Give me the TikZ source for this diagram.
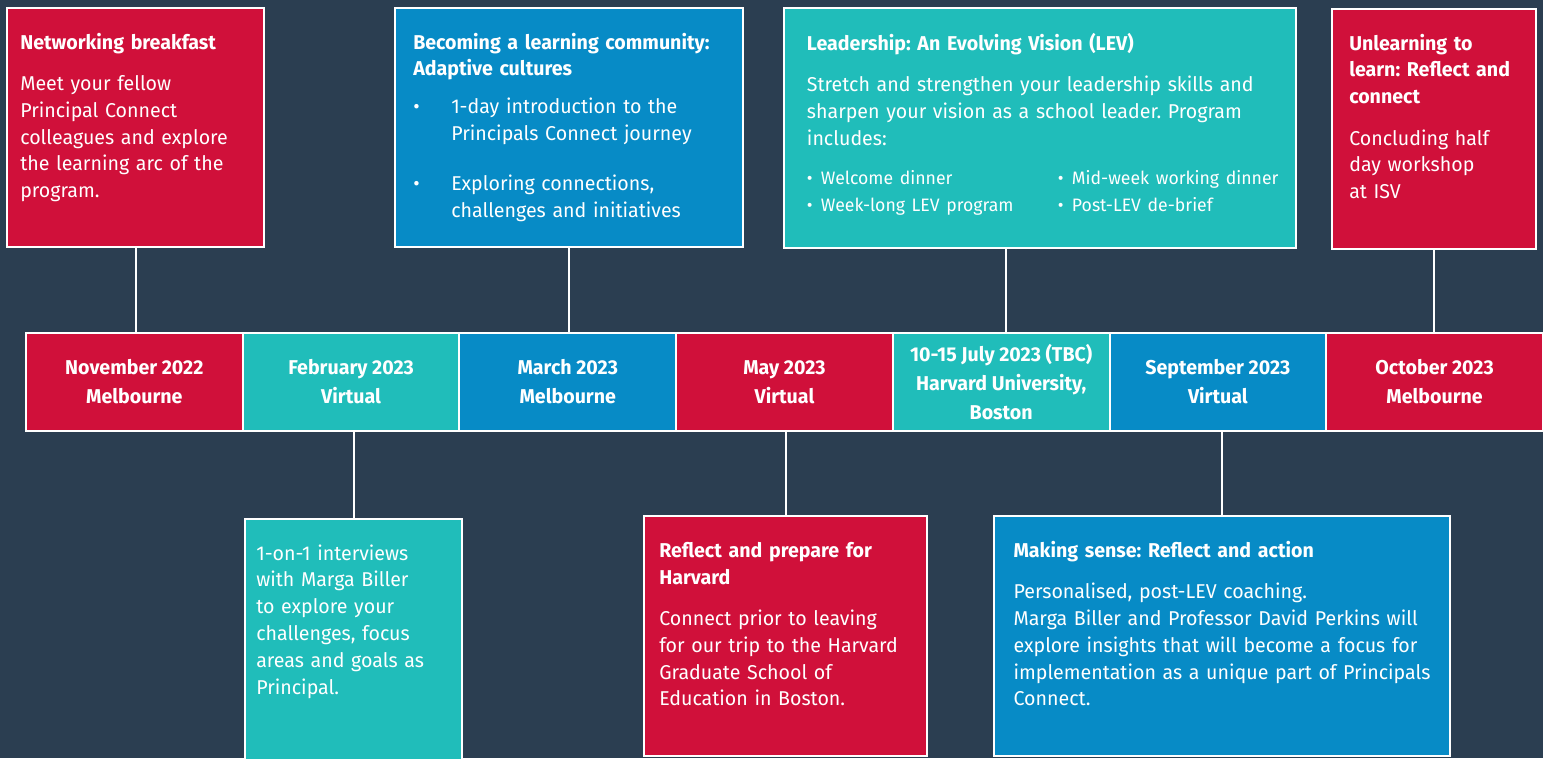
\documentclass[tikz,border=0pt]{standalone}
\usepackage{fontspec}
\setmainfont{Fira Sans}[FakeStretch=0.98]
\usepackage{xcolor}
\frenchspacing

\definecolor{bgslate}{HTML}{2B3E51}
\definecolor{pcred}{HTML}{D0103A}
\definecolor{pcteal}{HTML}{20BDBA}
\definecolor{pcblue}{HTML}{078BC6}

\newdimen\pxu \pxu=0.75pt
\newcommand\bodyfont{\fontsize{15}{20.1}\selectfont}
\newcommand\listfont{\fontsize{13.5}{20.25}\selectfont}
\newcommand\datefont{\bfseries\fontsize{15}{21.8}\selectfont}
\newcommand\gap{\par\vspace{11pt}}
\newcommand\dotitem{\makebox[14\pxu][l]{\textbullet}}

\tikzset{
    card/.style={draw=white, line width=1.5pt, anchor=north west, inner sep=0pt},
    blurb/.style={anchor=base west, inner sep=0pt, text=white, align=left, font=\bodyfont},
    cell/.style={draw=white, line width=1.5pt, anchor=north west, inner sep=0pt,
        minimum width=216.7\pxu, minimum height=98\pxu, text=white, align=center, font=\datefont},
    link/.style={draw=white, line width=1.5pt},
}

\begin{document}
\begin{tikzpicture}[x=0.75pt, y=-0.75pt]
    \path[use as bounding box, fill=bgslate] (0,0) rectangle (1543,758);

    % The timeline row
    \node[cell, fill=pcred]  (nov) at (25,332)     {November 2022\\Melbourne};
    \node[cell, fill=pcteal] (feb) at (241.7,332)  {February 2023\\Virtual};
    \node[cell, fill=pcblue] (mar) at (458.4,332)  {March 2023\\Melbourne};
    \node[cell, fill=pcred]  (may) at (675.1,332)  {May 2023\\Virtual};
    \node[cell, fill=pcteal] (jul) at (891.8,332)  {10-15 July 2023 (TBC)\\Harvard University,\\Boston};
    \node[cell, fill=pcblue] (sep) at (1108.5,332) {September 2023\\Virtual};
    \node[cell, fill=pcred]  (oct) at (1325.2,332) {October 2023\\Melbourne};

    % Cards above the timeline
    \node[card, fill=pcred, minimum width=257\pxu, minimum height=239\pxu] (breakfast) at (6,7) {};
    \node[blurb, text width=257\pxu] (breakfast-txt) at (20,49)
        {{\bfseries Networking breakfast}\gap
         Meet your fellow\\Principal Connect\\colleagues and explore\\the learning arc of the\\program.};

    \node[card, fill=pcblue, minimum width=348\pxu, minimum height=239\pxu] (community) at (394,7) {};
    \node[blurb, text width=348\pxu] (community-txt) at (413,49)
        {{\bfseries Becoming a learning community:\\Adaptive cultures}\par\vspace{8pt}
         \makebox[38\pxu][l]{\textbullet}1-day introduction to the\\
         \hspace*{38\pxu}Principals Connect journey\par\vspace{18pt}
         \makebox[38\pxu][l]{\textbullet}Exploring connections,\\
         \hspace*{38\pxu}challenges and initiatives};

    \node[card, fill=pcteal, minimum width=512\pxu, minimum height=240\pxu] (lev) at (783,7) {};
    \node[blurb, text width=512\pxu] (lev-txt) at (806.7,50)
        {{\bfseries Leadership: An Evolving Vision (LEV)}\gap
         Stretch and strengthen your leadership skills and\\sharpen your vision as a school leader. Program\\includes:\par\vspace{9pt}
         {\listfont
         \makebox[251\pxu][l]{\dotitem Welcome dinner}\dotitem Mid-week working dinner\\
         \makebox[251\pxu][l]{\dotitem Week-long LEV program}\dotitem Post-LEV de-brief\par}};

    \node[card, fill=pcred, minimum width=204\pxu, minimum height=240\pxu] (unlearning) at (1331,8) {};
    \node[blurb, text width=204\pxu] (unlearning-txt) at (1349,50)
        {{\bfseries Unlearning to\\learn: Reflect and\\connect}\gap
         Concluding half\\day workshop\\at ISV};

    % Cards below the timeline
    \node[card, fill=pcteal, minimum width=217\pxu, minimum height=260\pxu] (interviews) at (244,518) {};
    \node[blurb, text width=217\pxu] (interviews-txt) at (256,560)
        {1-on-1 interviews\\with Marga Biller\\to explore your\\challenges, focus\\areas and goals as\\Principal.};

    \node[card, fill=pcred, minimum width=283\pxu, minimum height=240\pxu] (prepare) at (643,515) {};
    \node[blurb, text width=283\pxu] (prepare-txt) at (659,557.3)
        {{\bfseries Reflect and prepare for\\Harvard}\gap
         Connect prior to leaving\\for our trip to the Harvard\\Graduate School of\\Education in Boston.};

    \node[card, fill=pcblue, minimum width=456\pxu, minimum height=240\pxu] (sensemaking) at (993,515) {};
    \node[blurb, text width=456\pxu] (sensemaking-txt) at (1013.3,557.3)
        {{\bfseries Making sense: Reflect and action}\gap
         Personalised, post-LEV coaching.\\Marga Biller and Professor David Perkins will\\explore insights that will become a focus for\\implementation as a unique part of Principals\\Connect.};

    % Draw the connectors to the timeline
    \draw[link] (breakfast.south) -- (breakfast.south |- nov.north);
    \draw[link] (community.south) -- (community.south |- mar.north);
    \draw[link] ([xshift=5\pxu]jul.north) -- ([xshift=5\pxu]jul.north |- lev.south);
    \draw[link] (unlearning.south) -- (unlearning.south |- oct.north);
    \draw[link] (feb.south -| interviews.north) -- (interviews.north);
    \draw[link] (may.south -| prepare.north) -- (prepare.north);
    \draw[link] (sep.south -| sensemaking.north) -- (sensemaking.north);
\end{tikzpicture}
\end{document}
